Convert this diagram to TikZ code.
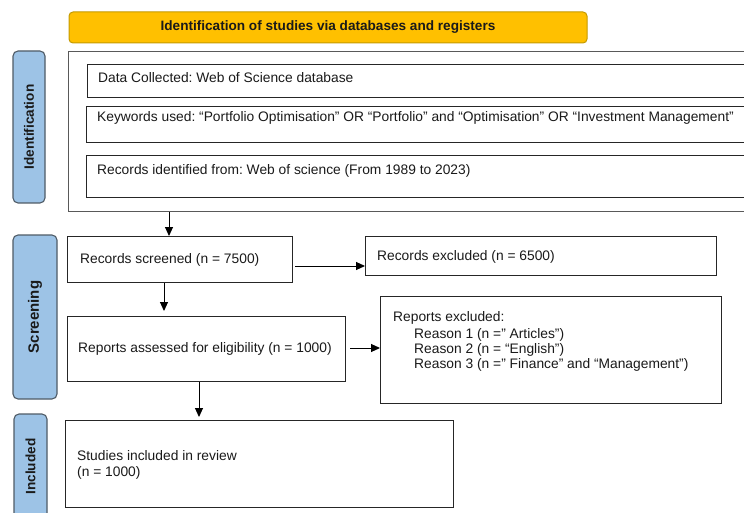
\documentclass[tikz,border=0pt]{standalone}
\usepackage{fontspec}
\setmainfont{Liberation Sans}
\usetikzlibrary{arrows.meta}
\definecolor{hdrfill}{HTML}{FFC000}
\definecolor{hdrdraw}{HTML}{C49A00}
\definecolor{sidefill}{HTML}{9DC3E6}
\definecolor{sidedraw}{HTML}{4F5B66}
\definecolor{boxdraw}{HTML}{262626}
\definecolor{txtcol}{HTML}{1A1A1A}
\frenchspacing
\begin{document}
\begin{tikzpicture}[x=1pt,y=-1pt,
  box/.style={draw=boxdraw,line width=1.1pt,anchor=north west,inner sep=0pt},
  outerbox/.style={draw=black!65,line width=1.3pt,anchor=north west,inner sep=0pt},
  hdr/.style={draw=hdrdraw,fill=hdrfill,line width=1pt,rounded corners=4pt,
    font=\fontsize{13.6}{15}\selectfont\bfseries,text=txtcol},
  side/.style={draw=sidedraw,fill=sidefill,line width=1.1pt,rounded corners=5pt,
    rotate=90,font=\fontsize{13.6}{14}\selectfont\bfseries,text=txtcol},
  txt/.style={anchor=base west,inner sep=0pt,font=\fontsize{13.8}{15}\selectfont,text=txtcol},
  arr/.style={draw=black,line width=1pt,-{Triangle[length=9pt,width=8pt]}}]
\useasboundingbox (0,0) rectangle (744,513);
\fill[white] (0,0) rectangle (744,513);

% header
\node[hdr,minimum width=518pt,minimum height=31pt] (hdr) at (328,27.5) {Identification of studies via databases and registers};

% side labels
\node[side,minimum width=152pt,minimum height=32pt] (idl) at (29,127) {Identification};
\node[side,minimum width=164pt,minimum height=44pt,font=\fontsize{15}{16}\selectfont\bfseries] (scl) at (35,317) {Screening};
\node[side,minimum width=105pt,minimum height=33pt] (inl) at (30.5,466.5) {Included};

% identification boxes
\node[outerbox,minimum width=692pt,minimum height=160pt] (outer) at (68,51) {};
\node[box,minimum width=673pt,minimum height=33pt] (data) at (87,64) {};
\node[box,minimum width=674pt,minimum height=36pt] (kw) at (86,106) {};
\node[box,minimum width=674pt,minimum height=42pt] (recid) at (86,155) {};

% screening boxes
\node[box,minimum width=225pt,minimum height=46pt] (rs) at (67,236) {};
\node[box,minimum width=351pt,minimum height=39pt] (rex) at (365,236) {};
\node[box,minimum width=278pt,minimum height=65pt] (ra) at (67,316) {};
\node[box,minimum width=341pt,minimum height=107pt] (repex) at (380,296) {};

% included box
\node[box,minimum width=388pt,minimum height=87pt] (si) at (65,420) {};

% texts
\node[txt] (tdata) at (98,82.5) {Data Collected: Web of Science database};
\node[txt] (tkw) at (97,121.5) {Keywords used: “Portfolio Optimisation” OR “Portfolio” and “Optimisation” OR “Investment Management”};
\node[txt] (trecid) at (97,174.5) {Records identified from: Web of science (From 1989 to 2023)};
\node[txt] (trs) at (80,263.5) {Records screened (n = 7500)};
\node[txt] (trex) at (377,260.5) {Records excluded (n = 6500)};
\node[txt] (tra) at (78,352.5) {Reports assessed for eligibility (n = 1000)};
\node[txt] (trepex) at (393,321.5) {Reports excluded:};
\node[txt] (tr1) at (414,338.5) {Reason 1 (n =” Articles”)};
\node[txt] (tr2) at (414,353.5) {Reason 2 (n = “English”)};
\node[txt] (tr3) at (414,368.5) {Reason 3 (n =” Finance” and “Management”)};
\node[txt] (tsi1) at (77,460.5) {Studies included in review};
\node[txt] (tsi2) at (77,476.5) {(n = 1000)};

% connectors
\coordinate (c1) at (169,0);
\coordinate (c2) at (0,266);
\coordinate (c3) at (164,0);
\coordinate (c4) at (0,348);
\coordinate (c5) at (199,0);
\draw[arr] (c1 |- outer.south) -- (c1 |- rs.north);
\draw[arr] ([xshift=2pt]rs.east |- c2) -- (rex.west |- c2);
\draw[arr] (c3 |- rs.south) -- ([yshift=5pt]c3 |- ra.north);
\draw[arr] ([xshift=4pt]ra.east |- c4) -- (repex.west |- c4);
\draw[arr] (c5 |- ra.south) -- ([yshift=3pt]c5 |- si.north);
\end{tikzpicture}
\end{document}
